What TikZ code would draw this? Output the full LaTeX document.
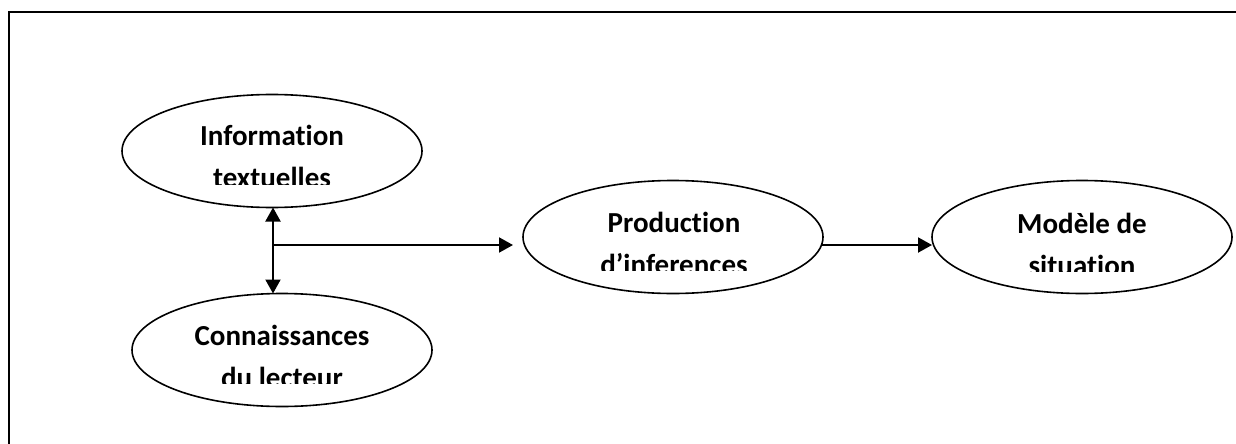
\documentclass[tikz,border=0pt]{standalone}
\usepackage{fontspec}
\setmainfont{Carlito}[Ligatures=NoCommon]
\usetikzlibrary{shapes.geometric,arrows.meta}

\tikzset{
  bubble/.style={ellipse, draw, line width=1.6pt, minimum width=300pt,
                 minimum height=113pt, inner sep=0pt, outer sep=0pt},
  label/.style={anchor=base, inner sep=0pt,
                font=\fontsize{29}{33}\selectfont\bfseries},
  link/.style={line width=2pt, -{Triangle[length=14pt,width=15pt]}},
  frameline/.style={line width=2.2pt}
}

% two-line label cut off below the second line
\newcommand{\cutlabel}[6]{% name, x, first baseline, cut depth, line 1, line 2
  \begin{scope}
    \clip (#2-150,-#3+30) rectangle (#2+150,-#3-#4);
    \node[label] (#1a) at (#2,-#3) {#5};
    \node[label] (#1b) at (#2,-#3-42) {#6};
  \end{scope}}

\begin{document}
\begin{tikzpicture}[x=1pt,y=1pt]
  \useasboundingbox (0,0) rectangle (1236,-444);

  % frame (top and left edges)
  \draw[frameline] (9,-446) -- (9,-12) -- (1238,-12);

  % ellipses
  \node[bubble] (info)  at (272,-151) {};
  \node[bubble] (conn)  at (282,-350) {};
  \node[bubble] (prod)  at (673,-237) {};
  \node[bubble] (model) at (1082,-237) {};

  % labels
  \cutlabel{infotxt}{272}{145}{39}{Information}{textuelles}
  \cutlabel{conntxt}{282}{345}{38}{Connaissances}{du lecteur}
  \cutlabel{prodtxt}{674}{232}{38}{Production}{d’inferences}
  \cutlabel{modeltxt}{1082}{233}{38}{Modèle de}{situation}

  % connectors
  \coordinate (j) at (273,-245);
  \draw[link] (j) -- (j |- info.south);
  \draw[link] (j) -- (j |- conn.north);
  \draw[link, shorten >=10pt] (j) -- (j -| prod.west);
  \draw[link] ([xshift=-1.5pt]prod.east |- j) -- (model.west |- j);
\end{tikzpicture}
\end{document}
